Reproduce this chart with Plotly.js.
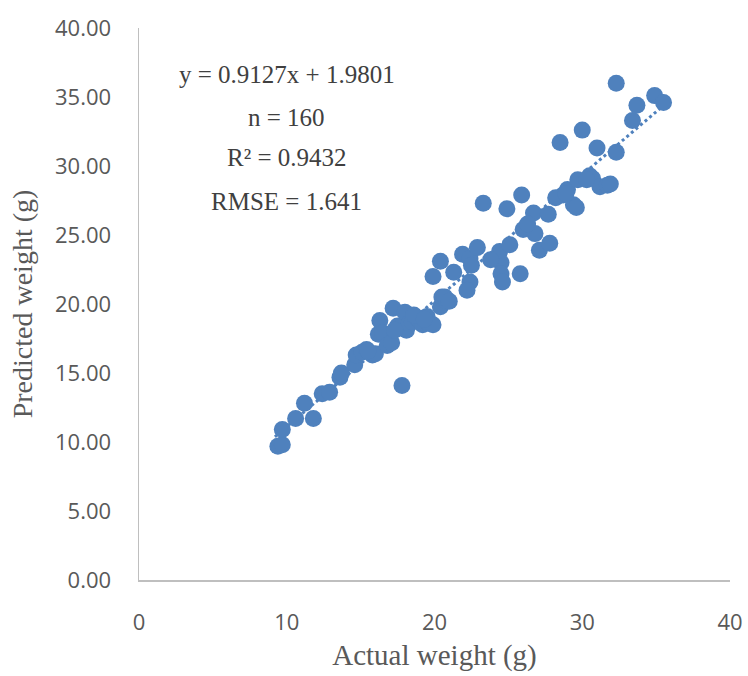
<!DOCTYPE html>
<html>
<head>
<meta charset="utf-8">
<script src="https://cdn.plot.ly/plotly-3.0.1.min.js"></script>
<style>html,body{margin:0;padding:0;background:#fff;}</style>
</head>
<body>
<div id="chart" style="width:748px;height:676px;"></div>
<script>
// Actual weight (g)
const actual = [
  9.4, 9.7, 9.7, 10.6, 11.2, 11.8, 12.4, 12.9, 13.6, 13.7,
  14.6, 14.7, 15.1, 15.4, 15.8, 16.0, 16.2, 16.3, 16.5, 16.8,
  17.1, 17.2, 17.5, 17.7, 17.8, 18.0, 18.1, 18.3, 18.5, 18.8,
  19.0, 19.2, 19.5, 19.6, 19.9, 20.4, 20.6, 20.5, 20.7, 19.9,
  20.4, 21.3, 21.9, 22.4, 22.5, 22.9, 22.4, 22.2, 23.3, 24.4,
  24.5, 24.5, 24.6, 25.1, 25.8, 24.9, 25.9, 26.0, 26.8, 26.7,
  27.1, 27.8, 27.7, 28.5, 28.7, 29.0, 29.4, 29.6, 29.7, 30.0,
  30.5, 30.7, 31.0, 31.2, 31.7, 31.9, 32.3, 32.3, 33.4, 33.7,
  34.9, 35.5, 15.5, 17.3, 18.6, 19.3, 21.0, 23.8, 26.3, 28.2,
  28.9, 30.3
];
// Predicted weight (g)
const predicted = [
  9.7, 9.8, 10.9, 11.7, 12.8, 11.7, 13.5, 13.6, 14.7, 15.0,
  15.6, 16.3, 16.5, 16.7, 16.3, 16.4, 17.8, 18.8, 17.9, 17.0,
  17.2, 19.7, 18.4, 18.3, 14.1, 19.4, 18.1, 18.6, 18.7, 19.0,
  18.8, 18.5, 19.1, 18.6, 18.5, 19.8, 20.3, 20.5, 20.5, 22.0,
  23.1, 22.3, 23.6, 23.3, 22.8, 24.1, 21.6, 21.0, 27.3, 23.8,
  23.0, 22.2, 21.6, 24.3, 22.2, 26.9, 27.9, 25.4, 25.1, 26.6,
  23.9, 24.4, 26.5, 31.7, 27.9, 28.3, 27.2, 27.0, 29.0, 32.6,
  29.3, 29.1, 31.3, 28.5, 28.6, 28.7, 36.0, 31.0, 33.3, 34.4,
  35.1, 34.6, 16.6, 18.1, 19.2, 18.9, 20.2, 23.2, 25.8, 27.7,
  28.0, 29.0
];
// Trendline coefficients and extent
const slope = [0.9127];
const intercept = [1.9801];
const trendX = [9.2, 35.6];
const statsText = ["y = 0.9127x + 1.9801", "n = 160", "R\u00b2 = 0.9432", "RMSE = 1.641"];
const statsY = [36.6, 33.55, 30.6, 27.4];
const xTicks = [0, 10, 20, 30, 40];
const yTicks = [0, 5, 10, 15, 20, 25, 30, 35, 40];

const trendY = trendX.map(x => slope[0] * x + intercept[0]);
const blue = 'rgb(79,129,189)';
const sans = '"Open Sans", "Noto Sans", sans-serif';
const serif = '"Liberation Serif", "DejaVu Serif", serif';

const traces = [
  {
    x: trendX, y: trendY, type: 'scatter', mode: 'lines',
    line: {color: blue, width: 3, dash: 'dot'}, hoverinfo: 'skip'
  },
  {
    x: actual, y: predicted, type: 'scatter', mode: 'markers',
    marker: {color: blue, size: 17, line: {width: 0}}
  }
];

const annotations = statsText.map((t, i) => ({
  x: 10.0, y: statsY[i], xref: 'x', yref: 'y', text: t, showarrow: false,
  font: {family: serif, size: 25, color: '#404040'}, xanchor: 'center', yanchor: 'middle'
}));

const layout = {
  width: 748, height: 676,
  margin: {l: 139, r: 18, t: 28, b: 96},
  paper_bgcolor: '#fff', plot_bgcolor: '#fff',
  showlegend: false,
  xaxis: {
    range: [0, 40], tickvals: xTicks, ticktext: xTicks.map(String),
    showgrid: false, zeroline: false, showline: true, linecolor: '#bfbfbf', linewidth: 1.5,
    ticks: '', ticklabelstandoff: 22,
    tickfont: {family: sans, size: 22, color: '#595959'},
    title: {text: 'Actual weight (g)', font: {family: serif, size: 29, color: '#595959'}, standoff: 10}
  },
  yaxis: {
    range: [0, 40], tickvals: yTicks, ticktext: yTicks.map(v => v.toFixed(2)),
    showgrid: false, zeroline: false, showline: true, linecolor: '#bfbfbf', linewidth: 1.5,
    ticks: '', ticklabelstandoff: 22,
    tickfont: {family: sans, size: 22, color: '#595959'},
    title: {text: 'Predicted weight (g)', font: {family: serif, size: 28, color: '#595959'}, standoff: 14}
  },
  annotations: annotations
};

Plotly.newPlot('chart', traces, layout, {displayModeBar: false, staticPlot: true});
</script>
</body>
</html>
